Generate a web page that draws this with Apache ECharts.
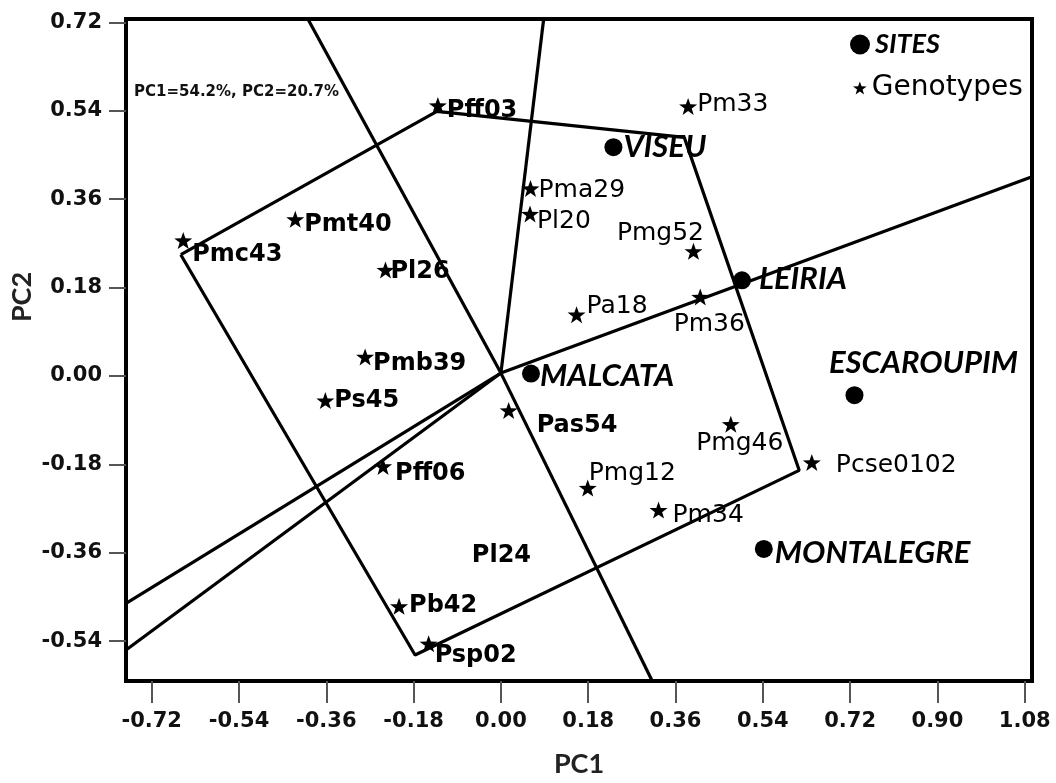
<!DOCTYPE html>
<html>
<head>
<meta charset="utf-8">
<script src="https://cdn.jsdelivr.net/npm/echarts@6/dist/echarts.min.js"></script>
<style>
  html, body { margin: 0; padding: 0; background: #fff; }
  #chart { width: 1056px; height: 783px; }
</style>
</head>
<body>
<div id="chart"></div>
<script>
// genotype scores (PC1, PC2)
var genoNames = ['Pff03', 'Pmc43', 'Pmt40', 'Pl26', 'Pmb39', 'Ps45', 'Pff06', 'Pb42', 'Psp02', 'Pl24', 'Pas54',
    'Pm33', 'Pma29', 'Pl20', 'Pmg52', 'Pa18', 'Pm36', 'Pmg46', 'Pcse0102', 'Pmg12', 'Pm34']
var genoPC1 = [-0.130, -0.655, -0.424, -0.238, -0.280, -0.362, -0.243, -0.210, -0.149, -0.060, 0.016,
    0.386, 0.061, 0.060, 0.397, 0.156, 0.411, 0.474, 0.641, 0.179, 0.325]
var genoPC2 = [0.551, 0.276, 0.319, 0.216, 0.039, -0.050, -0.184, -0.469, -0.545, -0.365, -0.070,
    0.549, 0.382, 0.330, 0.254, 0.125, 0.161, -0.098, -0.176, -0.228, -0.273]

// site scores
var siteNames = ['VISEU', 'LEIRIA', 'MALCATA', 'ESCAROUPIM', 'MONTALEGRE']
var sitePC1 = [0.232, 0.497, 0.062, 0.729, 0.542]
var sitePC2 = [0.466, 0.195, 0.005, -0.039, -0.352]

// polygon (which-won-where hull)
var hullPC1 = [-0.660, -0.132, 0.378, 0.615, -0.177, -0.660]
var hullPC2 = [0.247, 0.539, 0.486, -0.192, -0.568, 0.247]

// rays from the origin, end points
var rayOrigin = [0, 0.006]
var rayEndPC1 = [-0.398, 0.088, 1.095, 0.312, -0.773, -0.773]
var rayEndPC2 = [0.727, 0.726, 0.406, -0.621, -0.463, -0.558]

// tick labels
var xTicks = [-0.72, -0.54, -0.36, -0.18, 0, 0.18, 0.36, 0.54, 0.72, 0.90, 1.08]
var yTicks = [-0.54, -0.36, -0.18, 0, 0.18, 0.36, 0.54, 0.72]

// label placement: [dx, dy, align] from the marker centre
var genoLabelPos = {
    Pff03: [9, 5], Pmc43: [9, 14], Pmt40: [9, 5], Pl26: [5, 2], Pmb39: [8, 7], Ps45: [9, 0],
    Pff06: [12, 7], Pb42: [10, -1], Psp02: [6, 12], Pl24: [0, 0], Pas54: [28, 15],
    Pm33: [9, -2], Pma29: [8, 2], Pl20: [7, 8], Pmg52: [-33, -18, 'center'], Pa18: [10, -8],
    Pm36: [9, 28, 'center'], Pmg46: [9, 19, 'center'], Pcse0102: [24, 3], Pmg12: [1, -14], Pm34: [14, 5]
}
var boldLabels = ['Pff03', 'Pmc43', 'Pmt40', 'Pl26', 'Pmb39', 'Ps45', 'Pff06', 'Pb42', 'Psp02', 'Pl24', 'Pas54']
var siteLabelPos = {
    VISEU: [10, 0], LEIRIA: [17, -1], MALCATA: [9, 2], ESCAROUPIM: [69, -32, 'center'], MONTALEGRE: [11, 4]
}

var STAR = 'path://M50,0 L61.8,33.8 L97.6,34.5 L69.1,56.2 L79.4,90.5 L50,70 L20.6,90.5 L30.9,56.2 L2.4,34.5 L38.2,33.8 Z'

var chart = echarts.init(document.getElementById('chart'), null, { renderer: 'canvas' })

var genoData = genoNames.map(function (n, i) {
    var p = genoLabelPos[n]
    var bold = boldLabels.indexOf(n) >= 0
    var item = {
        name: n,
        value: [genoPC1[i], genoPC2[i]],
        label: {
            offset: [p[0], p[1]],
            align: p[2] || 'left',
            fontWeight: bold ? 'bold' : 'normal',
            fontSize: bold ? 24 : 25
        }
    }
    if (n === 'Pl24') item.symbolSize = 0
    return item
})

var siteData = siteNames.map(function (n, i) {
    var p = siteLabelPos[n]
    return {
        name: n,
        value: [sitePC1[i], sitePC2[i]],
        label: { offset: [p[0], p[1]], align: p[2] || 'left' }
    }
})

var raySeries = rayEndPC1.map(function (x, i) {
    return {
        type: 'line',
        silent: true,
        symbol: 'none',
        z: 1,
        lineStyle: { color: '#000', width: 3.2 },
        data: [rayOrigin, [x, rayEndPC2[i]]]
    }
})

var tickFmt = function (v) { return Number(v).toFixed(2) }

chart.setOption({
    animation: false,
    backgroundColor: '#fff',
    grid: {
        show: true,
        left: 126,
        right: 24,
        top: 19,
        bottom: 102,
        borderColor: '#000',
        borderWidth: 4
    },
    xAxis: {
        type: 'value',
        min: -0.773,
        max: 1.095,
        name: 'PC1',
        nameLocation: 'middle',
        nameGap: 70,
        nameTextStyle: { fontFamily: 'Lato', fontWeight: 'bold', fontSize: 27, color: '#222' },
        axisLine: { show: false, onZero: false },
        splitLine: { show: false },
        axisTick: {
            show: true,
            length: 22,
            customValues: xTicks,
            lineStyle: { color: '#555', width: 2 }
        },
        axisLabel: {
            customValues: xTicks,
            formatter: tickFmt,
            margin: 30,
            fontFamily: 'DejaVu Sans',
            fontWeight: 'bold',
            fontSize: 21,
            color: '#111'
        }
    },
    yAxis: {
        type: 'value',
        min: -0.621,
        max: 0.727,
        axisLine: { show: false, onZero: false },
        splitLine: { show: false },
        axisTick: {
            show: true,
            length: 17,
            customValues: yTicks,
            lineStyle: { color: '#555', width: 2 }
        },
        axisLabel: {
            customValues: yTicks,
            formatter: tickFmt,
            margin: 24,
            fontFamily: 'DejaVu Sans',
            fontWeight: 'bold',
            fontSize: 21,
            color: '#111'
        }
    },
    legend: [{
        orient: 'vertical',
        left: 850,
        top: 31,
        padding: 0,
        itemWidth: 20,
        itemHeight: 20,
        selectedMode: false,
        data: [{ name: 'SITES', icon: 'circle' }],
        textStyle: { fontFamily: 'Lato', fontStyle: 'italic', fontWeight: 'bold', fontSize: 27, color: '#000' }
    }, {
        orient: 'vertical',
        left: 853,
        top: 74,
        padding: 0,
        itemWidth: 14,
        itemHeight: 13,
        selectedMode: false,
        data: [{ name: 'Genotypes', icon: STAR }],
        textStyle: { fontFamily: 'DejaVu Sans', fontSize: 28, color: '#000' }
    }],
    graphic: [{
        type: 'text',
        x: 22,
        y: 297,
        rotation: Math.PI / 2,
        style: { text: 'PC2', font: 'bold 27px Lato', fill: '#222', align: 'center', verticalAlign: 'middle' }
    }, {
        type: 'text',
        x: 134,
        y: 92,
        style: { text: 'PC1=54.2%, PC2=20.7%', font: 'bold 15px "DejaVu Sans"', fill: '#111', align: 'left', verticalAlign: 'middle' }
    }],
    series: [{
        name: 'hull',
        type: 'line',
        silent: true,
        symbol: 'none',
        z: 1,
        lineStyle: { color: '#000', width: 3.2 },
        data: hullPC1.map(function (x, i) { return [x, hullPC2[i]] })
    }].concat(raySeries).concat([{
        name: 'Genotypes',
        type: 'scatter',
        symbol: STAR,
        symbolSize: [18, 17],
        itemStyle: { color: '#000', opacity: 1 },
        z: 3,
        label: {
            show: true,
            position: 'inside',
            formatter: '{b}',
            verticalAlign: 'middle',
            fontFamily: 'DejaVu Sans',
            color: '#000'
        },
        data: genoData
    }, {
        name: 'SITES',
        type: 'scatter',
        symbol: 'circle',
        symbolSize: 18,
        itemStyle: { color: '#000', opacity: 1 },
        z: 3,
        label: {
            show: true,
            position: 'inside',
            formatter: '{b}',
            verticalAlign: 'middle',
            fontFamily: 'Lato',
            fontStyle: 'italic',
            fontWeight: 'bold',
            fontSize: 31,
            color: '#000'
        },
        data: siteData
    }])
})
</script>
</body>
</html>
